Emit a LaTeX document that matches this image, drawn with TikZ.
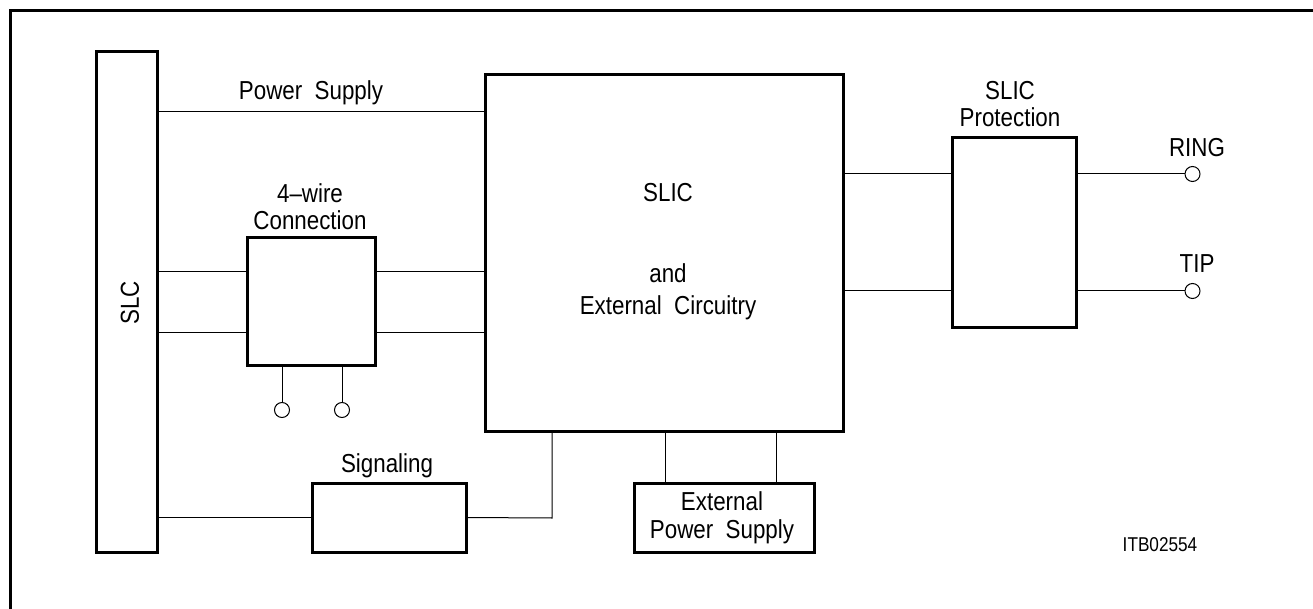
\documentclass[tikz,border=0pt]{standalone}
\usepackage{fontspec}
\setmainfont[FakeStretch=0.86]{Liberation Sans}
\begin{document}
\begin{tikzpicture}[x=1pt,y=-1pt,
  blk/.style={draw, line width=3pt, inner sep=0pt, outer sep=0pt},
  wire/.style={line width=1pt},
  term/.style={draw, circle, line width=1pt, minimum size=15pt, inner sep=0pt, outer sep=0pt},
  lbl/.style={font=\fontsize{26}{29}\selectfont, anchor=base, inner sep=0pt},
  small/.style={font=\fontsize{20}{23}\selectfont, anchor=base, inner sep=0pt}]
\useasboundingbox (0,0) rectangle (1313,609);
% frame
\draw[line width=3pt] (10.5,612) -- (10.5,11) -- (1316,11);
% blocks
\node[blk, minimum width=61pt, minimum height=500pt] (SLC) at (126.5,302) {};
\node[blk, minimum width=128pt, minimum height=127pt] (W) at (311,301.5) {};
\node[blk, minimum width=358pt, minimum height=356pt] (SLIC) at (664,253) {};
\node[blk, minimum width=154pt, minimum height=69pt] (Sig) at (389,517.5) {};
\node[blk, minimum width=180pt, minimum height=69pt] (EPS) at (724,517.5) {};
\node[blk, minimum width=124pt, minimum height=189pt] (Prot) at (1014,232.5) {};
% terminals
\node[term] (p1) at (282,410) {};
\node[term] (p2) at (342,410) {};
\node[term] (ring) at (1192.5,174) {};
\node[term] (tip) at (1192.5,291) {};
% level coordinates
\coordinate (yPS) at (0,112);
\coordinate (yA) at (0,272);
\coordinate (yB) at (0,332);
\coordinate (sc) at (552,518);
\coordinate (e1) at (665,0);
\coordinate (e2) at (776,0);
% connectors
\draw[wire] (SLC.east |- yPS) -- (SLIC.west |- yPS);
\draw[wire] (SLC.east |- yA) -- (W.west |- yA);
\draw[wire] (SLC.east |- yB) -- (W.west |- yB);
\draw[wire] (W.east |- yA) -- (SLIC.west |- yA);
\draw[wire] (W.east |- yB) -- (SLIC.west |- yB);
\draw[wire] (W.south -| p1) -- (p1.north);
\draw[wire] (W.south -| p2) -- (p2.north);
\draw[wire] (SLC.east |- Sig.west) -- (Sig.west);
\draw[wire] (Sig.east) -- (sc) -- (SLIC.south -| sc);
\draw[wire] (SLIC.south -| e1) -- (EPS.north -| e1);
\draw[wire] (SLIC.south -| e2) -- (EPS.north -| e2);
\draw[wire] (SLIC.east |- ring) -- (Prot.west |- ring);
\draw[wire] (SLIC.east |- tip) -- (Prot.west |- tip);
\draw[wire] (Prot.east |- ring) -- (ring.west);
\draw[wire] (Prot.east |- tip) -- (tip.west);
% labels
\node[lbl, rotate=90, anchor=center] (tSLC) at (130,303) {SLC};
\node[lbl] (tPS) at (311,100) {Power\ \ Supply};
\node[lbl] (tW1) at (310,203) {4--wire};
\node[lbl] (tW2) at (310,230) {Connection};
\node[lbl] (tS1) at (668,202) {SLIC};
\node[lbl] (tS2) at (668,283) {and};
\node[lbl] (tS3) at (668,314) {External\ \ Circuitry};
\node[lbl] (tSig) at (387,472) {Signaling};
\node[lbl] (tE1) at (722,510) {External};
\node[lbl] (tE2) at (722,538) {Power\ \ Supply};
\node[lbl] (tP1) at (1010,100) {SLIC};
\node[lbl] (tP2) at (1010,127) {Protection};
\node[lbl] (tR) at (1197,157) {RING};
\node[lbl] (tT) at (1197,273) {TIP};
\node[small] (tITB) at (1160,551) {ITB02554};
\end{tikzpicture}
\end{document}
